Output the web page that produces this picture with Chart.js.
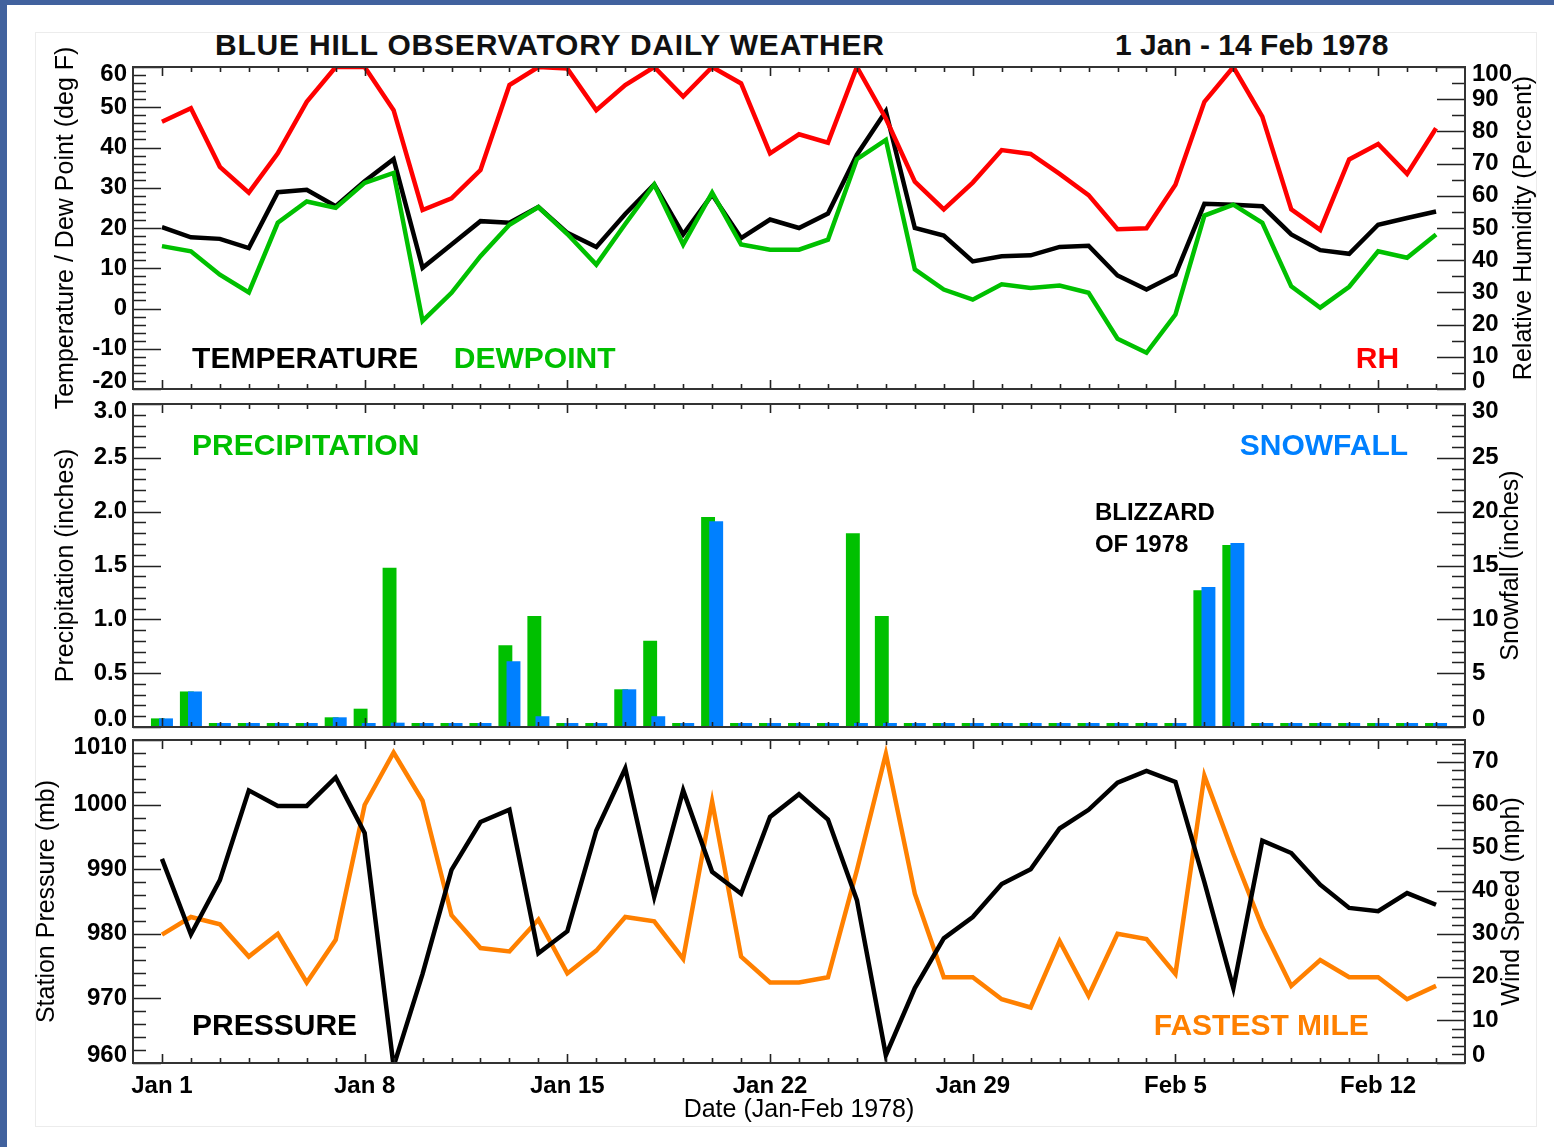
<!DOCTYPE html>
<html>
<head>
<meta charset="utf-8">
<title>Blue Hill Observatory Daily Weather</title>
<script src="https://cdn.jsdelivr.net/npm/chart.js@4.4.1/dist/chart.umd.min.js"></script>
<style>
  html, body { margin: 0; padding: 0; background: #fff; }
  #page { position: relative; width: 1554px; height: 1147px; overflow: hidden; background: #fff;
          font-family: "Liberation Sans", Arial, sans-serif; }
  .edge { position: absolute; background: #41629e; }
  #box { position: absolute; left: 35px; top: 32px; width: 1502px; height: 1095px; box-sizing: border-box; border: 1px solid #ececec; }
  .head { position: absolute; top: 28px; font-size: 30px; font-weight: bold; line-height: 34px; color: #111; white-space: nowrap; }
  canvas { position: absolute; left: 0; top: 0; }
</style>
</head>
<body>
<div id="page">
  <div class="edge" style="left:0;top:0;width:7px;height:1147px"></div>
  <div class="edge" style="left:0;top:0;width:1554px;height:5px"></div>
  <div id="box"></div>
  <div class="head" style="left:215px;letter-spacing:0.8px">BLUE HILL OBSERVATORY DAILY WEATHER</div>
  <div class="head" style="left:1115px">1 Jan - 14 Feb 1978</div>
  <canvas id="top" width="1554" height="1147"></canvas>
  <canvas id="mid" width="1554" height="1147"></canvas>
  <canvas id="bot" width="1554" height="1147"></canvas>
</div>
<script>
"use strict"
Chart.defaults.font.family = "'Liberation Sans', Arial, sans-serif";
Chart.defaults.color = '#000';

// day number 0 = Jan 1 ... 44 = Feb 14
const dayNums = [0, 1, 2, 3, 4, 5, 6, 7, 8, 9, 10, 11, 12, 13, 14, 15, 16, 17, 18, 19, 20, 21, 22,
    23, 24, 25, 26, 27, 28, 29, 30, 31, 32, 33, 34, 35, 36, 37, 38, 39, 40, 41, 42, 43, 44];
const tickDays = [0, 7, 14, 21, 28, 35, 42];
const tickLabels = ['Jan 1', 'Jan 8', 'Jan 15', 'Jan 22', 'Jan 29', 'Feb 5', 'Feb 12'];

// top panel (deg F / percent)
const temperature = [20.2, 17.7, 17.3, 15, 28.9, 29.5, 25.4, 31.6, 37.1, 10.1, 15.9, 21.7, 21.3, 25.2, 18.8,
    15.3, 23.5, 30.8, 18.4, 28.3, 17.5, 22.1, 20, 23.6, 38.2, 49, 20, 18.1, 11.7, 13, 13.2, 15.3, 15.6, 8.2,
    4.7, 8.4, 26, 25.8, 25.4, 18.4, 14.5, 13.6, 20.8, 22.5, 24.1];
const dewpoint = [15.5, 14.2, 8.4, 4, 21.3, 26.6, 25, 31.2, 33.7, -3.1, 3.9, 13, 20.8, 25.2, 18.5,
    10.9, 21, 30.8, 15.9, 28.8, 15.9, 14.6, 14.6, 17.1, 37.1, 41.9, 9.7, 4.7, 2.2, 6, 5.1, 5.7, 3.9, -7.5,
    -11, -1.5, 23.1, 25.8, 21.3, 5.5, 0.2, 5.4, 14.2, 12.6, 18.4];
const humidity = [83, 87.2, 69, 61, 73.2, 89.2, 100, 100, 86.6, 55.6, 59.2, 68, 94.4, 100, 99.5,
    86.6, 94.4, 100, 90.8, 100, 94.9, 73.2, 79.1, 76.5, 100, 84, 64.4, 55.8, 64.1, 74.2, 73, 66.8, 60.2, 49.6,
    49.9, 63.4, 89.2, 100, 84.6, 55.8, 49.4, 71.3, 76.1, 66.8, 81];

// middle panel (inches)
const precipitation = [0.08, 0.33, 0, 0, 0, 0, 0.09, 0.17, 1.48, 0, 0, 0, 0.76, 1.03, 0,
    0, 0.35, 0.80, 0, 1.95, 0, 0, 0, 0, 1.80, 1.03, 0, 0, 0, 0, 0, 0, 0, 0,
    0, 0, 1.27, 1.69, 0, 0, 0, 0, 0, 0, 0];
const snowfall = [0.8, 3.3, 0, 0, 0, 0, 0.9, 0, 0.4, 0, 0, 0, 6.1, 1.0, 0,
    0, 3.5, 1.0, 0, 19.1, 0, 0, 0, 0, 0, 0, 0, 0, 0, 0, 0, 0, 0, 0,
    0, 0, 13.0, 17.1, 0, 0, 0, 0, 0, 0, 0];

// bottom panel (mb / mph)
const pressure = [991.6, 979.9, 988.3, 1002.2, 999.8, 999.8, 1004.2, 995.6, 959.5, 973.8, 989.9, 997.3, 999.2, 977, 980.4,
    996, 1005.6, 985.7, 1002.2, 989.6, 986.2, 998.1, 1001.6, 997.7, 985.2, 961.2, 971.6, 979.3, 982.6, 987.7, 990, 996.3, 999.2, 1003.4,
    1005.2, 1003.5, 988, 971.6, 994.4, 992.5, 987.6, 984, 983.5, 986.3, 984.5];
const fastestMile = [29.8, 33.9, 32.2, 24.7, 30, 18.7, 28.6, 59.9, 72.1, 60.9, 34.3, 26.7, 25.9, 33.3, 20.8,
    26.1, 33.9, 32.9, 24.2, 60.7, 24.7, 18.7, 18.7, 19.9, 44.8, 71.8, 39.3, 19.9, 19.9, 14.8, 12.9, 28.3, 15.6, 30,
    28.8, 20.7, 66.7, 48.6, 31.5, 17.9, 23.9, 19.9, 19.9, 14.8, 17.9];

const tempTicks = [-20, -10, 0, 10, 20, 30, 40, 50, 60];
const rhTicks = [0, 10, 20, 30, 40, 50, 60, 70, 80, 90, 100];
const precipTicks = [0, 0.5, 1, 1.5, 2, 2.5, 3];
const snowTicks = [0, 5, 10, 15, 20, 25, 30];
const pressTicks = [960, 970, 980, 990, 1000, 1010];
const windTicks = [0, 10, 20, 30, 40, 50, 60, 70];

const RED = '#ff0000', GREEN = '#00c000', BLUE = '#0080ff', ORANGE = '#ff8000', BLACK = '#000000';
const FONT = "'Liberation Sans', Arial, sans-serif";

const pts = arr => arr.map((v, i) => ({ x: dayNums[i], y: v }));

// inward tick marks + box round the plot, IDL style
const frame = {
    id: 'frame',
    afterDatasetsDraw(chart, args, o) {
        const { ctx, chartArea: a, scales } = chart;
        const xs = scales[o.x];
        ctx.save();
        ctx.strokeStyle = '#222';
        ctx.lineWidth = 1.6;
        ctx.beginPath();
        dayNums.forEach(d => {
            const px = Math.round(xs.getPixelForValue(d)) + 0.5;
            const len = tickDays.includes(d) ? 9 : 5;
            ctx.moveTo(px, a.bottom); ctx.lineTo(px, a.bottom - len);
            ctx.moveTo(px, a.top); ctx.lineTo(px, a.top + len);
        });
        o.y.forEach(ax => {
            const s = scales[ax.id];
            const left = s.position === 'left';
            const n = Math.floor((s.max - s.min) / ax.minor + 1e-6);
            for (let k = 0; k <= n; k++) {
                const v = s.min + k * ax.minor;
                const major = Math.abs(v / ax.major - Math.round(v / ax.major)) < 1e-6;
                const len = major ? 28 : 13;
                const py = Math.round(s.getPixelForValue(v)) + 0.5;
                const x0 = left ? a.left : a.right;
                ctx.moveTo(x0, py); ctx.lineTo(x0 + (left ? len : -len), py);
            }
        });
        ctx.stroke();
        ctx.strokeStyle = '#333';
        ctx.lineWidth = 2;
        ctx.strokeRect(a.left, a.top, a.width, a.height);
        ctx.restore();
    }
};

// in-plot labels and right axis titles (read bottom to top like the left ones)
const notes = {
    id: 'notes',
    afterDraw(chart, args, o) {
        const { ctx, chartArea: a, scales } = chart;
        ctx.save();
        ctx.textBaseline = 'middle';
        ctx.textAlign = 'left';
        o.items.forEach(t => {
            ctx.font = 'bold ' + t.size + 'px ' + FONT;
            ctx.fillStyle = t.color;
            ctx.fillText(t.text, scales[o.x].getPixelForValue(t.x), scales[t.axis].getPixelForValue(t.y));
        });
        if (o.rightTitle) {
            ctx.translate(o.rightTitle.x, (a.top + a.bottom) / 2);
            ctx.rotate(-Math.PI / 2);
            ctx.textAlign = 'center';
            ctx.textBaseline = 'middle';
            ctx.font = '25px ' + FONT;
            ctx.fillStyle = '#000';
            ctx.fillText(o.rightTitle.text, 0, 0);
        }
        ctx.restore();
    }
};

function hiddenX(min, max) {
    return {
        type: 'linear', min, max, offset: false, display: false,
        afterBuildTicks: s => { s.ticks = tickDays.map(v => ({ value: v })); }
    };
}

// end labels are nudged inward (two-line label with an empty line), as in the original
function yAxis(side, min, max, ticks, fmt, title, titlePad) {
    return {
        type: 'linear', position: side, min, max,
        grid: { display: false, drawTicks: false },
        border: { display: false },
        afterBuildTicks: s => { s.ticks = ticks.map(v => ({ value: v })); },
        afterFit: s => { s.width = side === 'left' ? 133 : 89; },
        ticks: {
            padding: side === 'left' ? 6 : 7, color: '#000',
            font: { size: 24, weight: 'bold', lineHeight: 0.6 },
            callback: v => {
                const s = fmt ? fmt(v) : String(v);
                if (v === max) return ['', s];
                if (v === min) return [s, ''];
                return s;
            }
        },
        title: title
            ? { display: true, text: title, color: '#000', font: { size: 25 }, padding: { top: titlePad, bottom: 0 } }
            : { display: false }
    };
}

function baseOptions(padding, scales, framePlug, notesPlug) {
    return {
        responsive: false, animation: false, devicePixelRatio: 1, events: [],
        layout: { padding },
        scales,
        elements: { point: { radius: 0 }, line: { borderWidth: 4.5, tension: 0 } },
        plugins: { legend: { display: false }, tooltip: { enabled: false }, frame: framePlug, notes: notesPlug }
    };
}

// TEMPERATURE / DEWPOINT / RH
new Chart(document.getElementById('top'), {
    type: 'line',
    data: {
        datasets: [
            { label: 'RH', data: pts(humidity), yAxisID: 'yr', borderColor: RED, order: 0, clip: 0 },
            { label: 'Dewpoint', data: pts(dewpoint), yAxisID: 'y', borderColor: GREEN, order: 1 },
            { label: 'Temperature', data: pts(temperature), yAxisID: 'y', borderColor: BLACK, order: 2 }
        ]
    },
    options: baseOptions(
        { left: 0, right: 0, top: 67, bottom: 758 },
        {
            x: hiddenX(-1, 45),
            y: yAxis('left', -20, 60, tempTicks, null, 'Temperature / Dew Point (deg F)', 51),
            yr: yAxis('right', 0, 100, rhTicks)
        },
        { x: 'x', y: [{ id: 'y', major: 10, minor: 2 }, { id: 'yr', major: 10, minor: 5 }] },
        {
            x: 'x',
            items: [
                { text: 'TEMPERATURE', x: 1.04, y: -12.8, axis: 'y', color: BLACK, size: 30 },
                { text: 'DEWPOINT', x: 10.08, y: -12.8, axis: 'y', color: GREEN, size: 30 },
                { text: 'RH', x: 41.23, y: -12.8, axis: 'y', color: RED, size: 30 }
            ],
            rightTitle: { text: 'Relative Humidity (Percent)', x: 1524 }
        }
    ),
    plugins: [frame, notes]
});

// PRECIPITATION / SNOWFALL
new Chart(document.getElementById('mid'), {
    type: 'bar',
    data: {
        datasets: [
            { label: 'Snowfall', data: pts(snowfall), xAxisID: 'xs', yAxisID: 'yr', backgroundColor: BLUE,
              order: 0, grouped: false, barPercentage: 0.48, categoryPercentage: 1, minBarLength: 4 },
            { label: 'Precipitation', data: pts(precipitation), xAxisID: 'xp', yAxisID: 'y', backgroundColor: GREEN,
              order: 1, grouped: false, barPercentage: 0.48, categoryPercentage: 1, minBarLength: 4 }
        ]
    },
    options: baseOptions(
        { left: 0, right: 0, top: 404, bottom: 420 },
        {
            xt: hiddenX(-1, 45),
            xp: hiddenX(-0.86, 45.14),   // green sits a little left of the day
            xs: hiddenX(-1.14, 44.86),   // blue a little right
            y: yAxis('left', 0, 3, precipTicks, v => v.toFixed(1), 'Precipitation (inches)', 51),
            yr: yAxis('right', 0, 30, snowTicks)
        },
        { x: 'xt', y: [{ id: 'y', major: 0.5, minor: 0.1 }, { id: 'yr', major: 5, minor: 1 }] },
        {
            x: 'xt',
            items: [
                { text: 'PRECIPITATION', x: 1.04, y: 2.6, axis: 'y', color: GREEN, size: 30 },
                { text: 'SNOWFALL', x: 37.22, y: 2.6, axis: 'y', color: BLUE, size: 30 },
                { text: 'BLIZZARD', x: 32.22, y: 1.98, axis: 'y', color: BLACK, size: 24 },
                { text: 'OF 1978', x: 32.22, y: 1.69, axis: 'y', color: BLACK, size: 24 }
            ],
            rightTitle: { text: 'Snowfall (inches)', x: 1511 }
        }
    ),
    plugins: [frame, notes]
});

// PRESSURE / FASTEST MILE
new Chart(document.getElementById('bot'), {
    type: 'line',
    data: {
        datasets: [
            { label: 'Station Pressure', data: pts(pressure), yAxisID: 'y', borderColor: BLACK, order: 0 },
            { label: 'Fastest Mile', data: pts(fastestMile), yAxisID: 'yr', borderColor: ORANGE, order: 1 }
        ]
    },
    options: baseOptions(
        { left: 0, right: 0, top: 740, bottom: 0 },
        {
            x: {
                type: 'linear', min: -1, max: 45, offset: false,
                grid: { display: false, drawTicks: false },
                border: { display: false },
                afterBuildTicks: s => { s.ticks = tickDays.map(v => ({ value: v })); },
                afterFit: s => { s.height = 84; },
                ticks: {
                    padding: 9, maxRotation: 0, autoSkip: false, color: '#000',
                    font: { size: 24, weight: 'bold' },
                    callback: v => tickLabels[tickDays.indexOf(v)]
                },
                title: { display: true, text: 'Date (Jan-Feb 1978)', color: '#000', font: { size: 25 }, padding: { top: 0, bottom: 22 } }
            },
            y: yAxis('left', 960, 1010, pressTicks, null, 'Station Pressure (mb)', 32),
            yr: yAxis('right', 0, 75, windTicks)
        },
        { x: 'x', y: [{ id: 'y', major: 10, minor: 2 }, { id: 'yr', major: 10, minor: 2 }] },
        {
            x: 'x',
            items: [
                { text: 'PRESSURE', x: 1.04, y: 965.6, axis: 'y', color: BLACK, size: 30 },
                { text: 'FASTEST MILE', x: 34.25, y: 965.6, axis: 'y', color: ORANGE, size: 30 }
            ],
            rightTitle: { text: 'Wind Speed (mph)', x: 1512 }
        }
    ),
    plugins: [frame, notes]
});
</script>
</body>
</html>
